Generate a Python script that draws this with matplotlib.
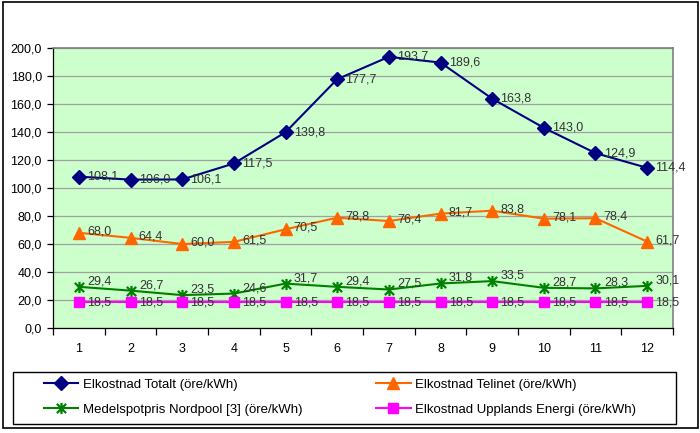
import matplotlib.pyplot as plt
from matplotlib.patches import Rectangle
from matplotlib.lines import Line2D
from matplotlib.path import Path

plt.rcParams["font.family"] = ["Liberation Sans", "DejaVu Sans"]

months = [1, 2, 3, 4, 5, 6, 7, 8, 9, 10, 11, 12]
totalt = [108.1, 106.0, 106.1, 117.5, 139.8, 177.7, 193.7, 189.6, 163.8, 143.0, 124.9, 114.4]
telinet = [68.0, 64.4, 60.0, 61.5, 70.5, 78.8, 76.4, 81.7, 83.8, 78.1, 78.4, 61.7]
nordpool = [29.4, 26.7, 23.5, 24.6, 31.7, 29.4, 27.5, 31.8, 33.5, 28.7, 28.3, 30.1]
upplands = [18.5] * 12

# Excel style star: an X with a vertical bar through it
star = Path([(-1, -1), (1, 1), (-1, 1), (1, -1), (0, -1.2), (0, 1.2)],
            [Path.MOVETO, Path.LINETO, Path.MOVETO, Path.LINETO, Path.MOVETO, Path.LINETO])

# label, values, colour, marker, marker size, label offset up (pt)
series = [
    ("Elkostnad Totalt (öre/kWh)", totalt, "#000080", "D", 7, 0),
    ("Elkostnad Telinet (öre/kWh)", telinet, "#FF6600", "^", 8, 1),
    ("Medelspotpris Nordpool [3] (öre/kWh)", nordpool, "#008000", star, 8, 4),
    ("Elkostnad Upplands Energi (öre/kWh)", upplands, "#FF00FF", "s", 7, 0),
]

fig = plt.figure(figsize=(7, 4.33), dpi=100)
W, H = 700, 433

# outer chart frame
fig.patches.append(Rectangle((3 / W, 1 - 428 / H), 695 / W, 426 / H,
                             transform=fig.transFigure, fill=False,
                             edgecolor="black", linewidth=1.2))
# legend frame
fig.patches.append(Rectangle((13 / W, 1 - 424 / H), 663 / W, 52 / H,
                             transform=fig.transFigure, fill=False,
                             edgecolor="black", linewidth=1.0))

ax = fig.add_axes([53 / W, 1 - 328 / H, 620 / W, 280 / H])
ax.set_facecolor("#CCFFCC")
for sp in ax.spines.values():
    sp.set_color("#808080")
    sp.set_linewidth(1.2)
ax.spines["bottom"].set_color("black")
ax.spines["left"].set_color("black")
ax.spines["bottom"].set_linewidth(0.9)
ax.spines["left"].set_linewidth(0.9)

ax.set_xlim(0.5, 12.5)
ax.set_ylim(0, 200)
ax.set_yticks(range(0, 201, 20))
ax.set_yticklabels([f"{v:.1f}".replace(".", ",") for v in range(0, 201, 20)], fontsize=9)
ax.yaxis.grid(True, color="#A0A0A0", linewidth=0.9)
ax.set_axisbelow(True)
ax.set_xticks([m + 0.5 for m in [0] + months])
ax.set_xticklabels([])
ax.set_xticks(months, minor=True)
ax.set_xticklabels([str(m) for m in months], minor=True, fontsize=9)
ax.tick_params(axis="x", which="major", direction="out", length=5, width=0.9)
ax.tick_params(axis="x", which="minor", length=0, pad=11)
ax.tick_params(axis="y", direction="out", length=4, width=0.9, pad=4)

handles = []
for label, vals, color, marker, ms, dy in series:
    mew = 1.6 if marker is star else 1
    ax.plot(months, vals, color=color, linewidth=1.5, marker=marker,
            markersize=ms, markeredgewidth=mew, markeredgecolor=color, zorder=3)
    for m, v in zip(months, vals):
        ax.annotate(f"{v:.1f}".replace(".", ","), (m, v), xytext=(6, dy),
                    textcoords="offset points", va="center", ha="left",
                    fontsize=9, color="#333333", zorder=4)
    handles.append(Line2D([], [], color=color, linewidth=1.5, marker=marker,
                          markersize=ms, markeredgewidth=mew, label=label))

order = [handles[0], handles[2], handles[1], handles[3]]
leg = fig.legend(handles=order, loc="center left",
                 bbox_to_anchor=(44 / W, 1 - 397 / H),
                 ncol=2, fontsize=9.5, frameon=False,
                 handlelength=2.6, handletextpad=0.35, columnspacing=5.6,
                 borderaxespad=0, borderpad=0, labelspacing=0.95)

fig.savefig("out.png", dpi=100)
